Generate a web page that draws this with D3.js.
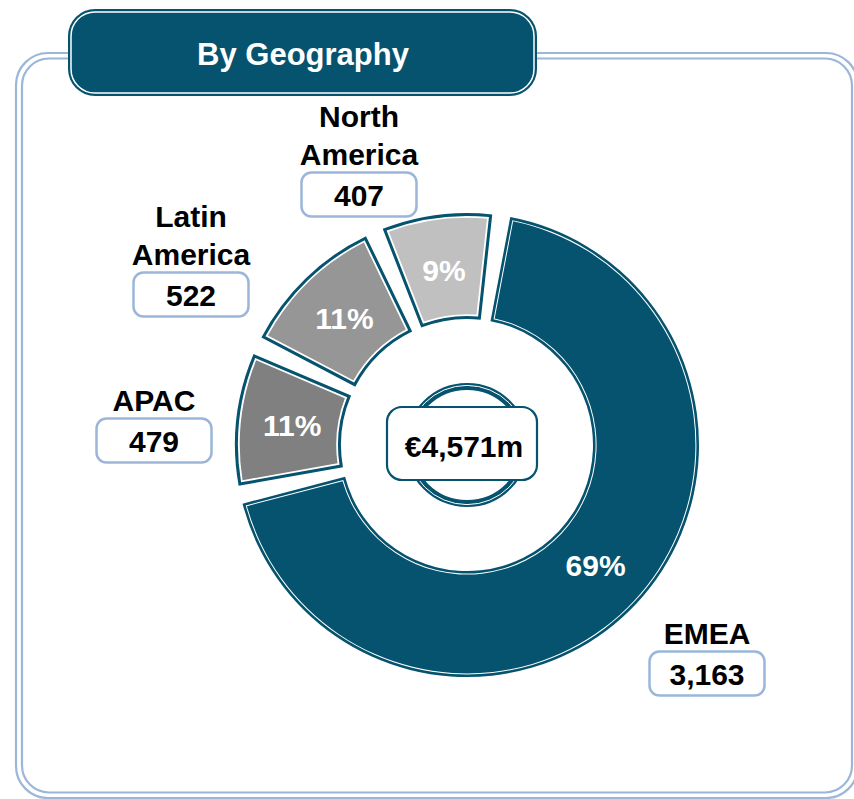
<!DOCTYPE html>
<html>
<head>
<meta charset="utf-8">
<script src="https://cdn.jsdelivr.net/npm/d3@7"></script>
<style>
  html, body { margin: 0; padding: 0; background: #fff; }
  svg { display: block; font-family: "Liberation Sans", Arial, sans-serif; }
</style>
</head>
<body>
<svg id="chart" width="854" height="799"></svg>
<script>
// Data
const regions = ["EMEA", "APAC", "Latin America", "North America"];
const revenue = [3163, 479, 522, 407];
const shareLabels = ["69%", "11%", "11%", "9%"];
const title = "By Geography";

// Colours
const DARK = "#05536e";
const FRAME = "#9bb6d8";
const sliceFill = { "EMEA": DARK, "APAC": "#808080", "Latin America": "#969696", "North America": "#c0c0c0" };

// Label placement (centre x, baseline of last name line)
const labelLayout = {
  "EMEA": { x: 707, y: 644, lines: ["EMEA"] },
  "APAC": { x: 154, y: 411, lines: ["APAC"] },
  "Latin America": { x: 191, y: 265, lines: ["Latin", "America"] },
  "North America": { x: 359, y: 165, lines: ["North", "America"] }
};

const svg = d3.select("#chart");
const rad = Math.PI / 180;

// Frame (double rounded line)
svg.append("rect").attr("x", 16).attr("y", 53).attr("width", 842).attr("height", 745)
  .attr("rx", 32).attr("fill", "none").attr("stroke", FRAME).attr("stroke-width", 2.2);
svg.append("rect").attr("x", 22).attr("y", 58.5).attr("width", 830).attr("height", 734)
  .attr("rx", 27).attr("fill", "none").attr("stroke", FRAME).attr("stroke-width", 2.2);

// Title tab
svg.append("rect").attr("x", 68).attr("y", 9).attr("width", 469).attr("height", 87)
  .attr("rx", 27).attr("fill", DARK);
svg.append("rect").attr("x", 71).attr("y", 12).attr("width", 463).attr("height", 81)
  .attr("rx", 24).attr("fill", "none").attr("stroke", "#fff").attr("stroke-width", 1.5);
svg.append("text").attr("x", 303).attr("y", 65).attr("text-anchor", "middle")
  .attr("fill", "#fff").style("font-size", "31px").style("font-weight", "700")
  .text(title);

// Donut
const cx = 467, cy = 445, r0 = 126, r1 = 232;
const startDeg = 8.5, gapDeg = 4.5;
const rows = regions.map((r, i) => ({ region: r, value: revenue[i], share: shareLabels[i] }));

const pie = d3.pie().sort(null).value(d => d.value)
  .startAngle(startDeg * rad).endAngle(startDeg * rad + 2 * Math.PI);
const slices = pie(rows).map(d => Object.assign(d, {
  a0: d.startAngle + gapDeg * rad / 2,
  a1: d.endAngle - gapDeg * rad / 2
}));

function insetArc(inset) {
  return d3.arc()
    .innerRadius(r0 + inset).outerRadius(r1 - inset)
    .startAngle(d => d.a0).endAngle(d => d.a1)
    .padRadius(100).padAngle(inset > 0 ? 2 * Math.asin(inset / 100) : 0);
}

const gDonut = svg.append("g").attr("transform", `translate(${cx},${cy})`);
// outer dark edge, white line, then the slice colour
const isEmea = d => d.data.region === "EMEA";
const layers = [
  { inset: () => 0, fill: () => DARK },
  { inset: d => isEmea(d) ? 2.6 : 3, fill: () => "#fff" },
  { inset: d => isEmea(d) ? 3.6 : 4.8, fill: d => sliceFill[d.data.region] }
];
layers.forEach(l => {
  gDonut.selectAll(null).data(slices).enter().append("path")
    .attr("d", d => insetArc(l.inset(d))(d))
    .attr("fill", l.fill);
});

// Percent labels
const labelArc = d3.arc().innerRadius(176).outerRadius(176).startAngle(d => d.a0).endAngle(d => d.a1);
gDonut.selectAll(null).data(slices).enter().append("text")
  .attr("transform", d => `translate(${labelArc.centroid(d)})`)
  .attr("text-anchor", "middle").attr("dy", "0.36em")
  .attr("fill", "#fff").style("font-size", "30px").style("font-weight", "700")
  .text(d => d.data.share);

// Centre ring and total
gDonut.append("circle").attr("r", 58.5).attr("fill", "#fff").attr("stroke", DARK).attr("stroke-width", 7);
gDonut.append("circle").attr("r", 59.6).attr("fill", "none").attr("stroke", "#fff").attr("stroke-width", 1);
gDonut.append("rect").attr("x", -80).attr("y", -38).attr("width", 150).attr("height", 73)
  .attr("rx", 15).attr("fill", "#fff").attr("stroke", DARK).attr("stroke-width", 2.2);
const total = d3.sum(revenue);
gDonut.append("text").attr("x", -3).attr("y", 12).attr("text-anchor", "middle")
  .attr("fill", "#000").style("font-size", "30px").style("font-weight", "700")
  .text("€" + d3.format(",")(total) + "m");

// Region labels with value boxes
const fmt = d3.format(",");
rows.forEach(row => {
  const L = labelLayout[row.region];
  const g = svg.append("g");
  L.lines.forEach((line, i) => {
    g.append("text").attr("x", L.x).attr("y", L.y - (L.lines.length - 1 - i) * 38)
      .attr("text-anchor", "middle").attr("fill", "#000")
      .style("font-size", "30px").style("font-weight", "700").text(line);
  });
  const top = L.y + 7.5;
  g.append("rect").attr("x", L.x - 57.5).attr("y", top).attr("width", 115).attr("height", 44)
    .attr("rx", 10).attr("fill", "#fff").attr("stroke", FRAME).attr("stroke-width", 2.5);
  g.append("text").attr("x", L.x).attr("y", top + 33.5).attr("text-anchor", "middle")
    .attr("fill", "#000").style("font-size", "30px").style("font-weight", "700")
    .text(fmt(row.value));
});
</script>
</body>
</html>
